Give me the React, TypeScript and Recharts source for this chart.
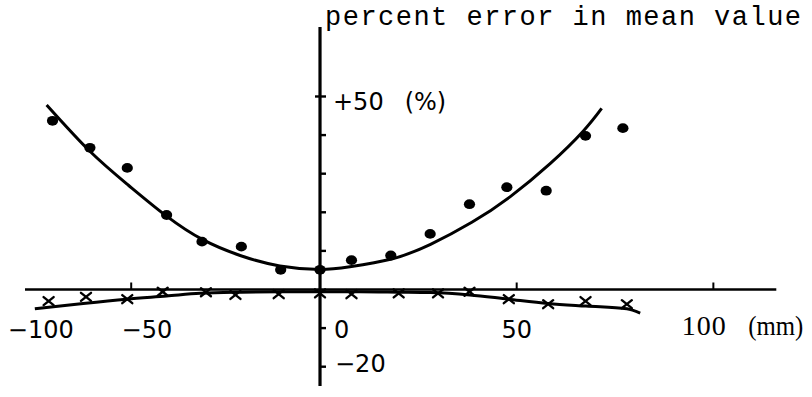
import React from 'react';
import { ComposedChart, XAxis, YAxis, Line, Scatter, ReferenceLine } from 'recharts';

// Measured points: mean-value error (dots) and the second series (crosses), x in mm, y in %
const dotX = [-68, -58.5, -49, -39, -30, -20, -10, 0, 8, 18, 28, 38, 47.5, 57.5, 67.5, 77];
const dotY = [43.7, 36.7, 31.5, 19.3, 12.4, 11.1, 5.1, 5.1, 7.6, 8.8, 14.4, 22.1, 26.5, 25.6, 39.8, 41.8];

const crossX = [-69, -59.5, -49, -40, -29, -21.5, -10.5, 0, 8, 20, 30, 38, 48, 58, 67.5, 78];
const crossY = [-3.0, -1.9, -2.5, -0.6, -0.7, -1.4, -1.2, -1.0, -1.2, -1.0, -1.0, -0.6, -2.5, -3.8, -3.0, -3.8];

// Hand-fitted trend curves
const upperFitX = [-69.5, -58.5, -48.7, -39, -29.8, -20.3, -10.2, 0, 7.6, 18.2, 28.1, 38.6, 48.3, 58.5, 66.9, 71.6];
const upperFitY = [47.8, 35.8, 27.0, 19.0, 12.9, 8.8, 6.1, 5.2, 5.9, 7.9, 11.7, 17.4, 24.0, 32.6, 41.0, 46.9];

const lowerFitX = [-72.5, -60.2, -49.2, -39, -30.5, -20, -10, 0, 10, 20, 28, 38.1, 47.9, 58, 67.6, 78, 81.4];
const lowerFitY = [-5.0, -3.6, -2.5, -1.7, -1.0, -0.7, -0.6, -0.6, -0.6, -0.7, -0.8, -1.4, -2.5, -3.6, -4.3, -5.0, -6.1];

// Axis furniture
const xTickAt = [-48, 50, 100];
const yTickAt = [-20, -10, 10, 20, 30, 40, 50];
const xLabelAt = [-71, -44, 5.5, 50];
const xLabelText = ['\u2212100', '\u221250', '0', '50'];
const xUnitAt = 97.7;
const xUnitValue = '100';
const xUnitText = '(mm)';
const yLabelTop = { value: 50, text: '+50', unit: '(%)' };
const yLabelBottom = { value: -20, text: '\u221220' };
const titleText = 'percent error in mean value';

const zip = (xs: number[], ys: number[]) => xs.map((x, i) => ({ x, y: ys[i] }));

const dots = zip(dotX, dotY);
const crosses = zip(crossX, crossY);
const upperFit = zip(upperFitX, upperFitY);
const lowerFit = zip(lowerFitX, lowerFitY);
const xTicks = xTickAt.map((x) => ({ x, y: 0 }));
const yTicks = yTickAt.map((y) => ({ x: 0, y }));
const xLabels = xLabelAt.map((x, i) => ({ x, y: 0, text: xLabelText[i] }));

const SANS = 'DejaVu Sans, sans-serif';
const SERIF = 'Liberation Serif, serif';
const MONO = 'Liberation Mono, monospace';

const DotMark = (p: any) =>
  p.cx == null ? null : <ellipse cx={p.cx} cy={p.cy} rx={5.6} ry={4.9} fill="#000" />;

const CrossMark = (p: any) =>
  p.cx == null ? null : (
    <g stroke="#000" strokeWidth={2.4} strokeLinecap="round">
      <line x1={p.cx - 5} y1={p.cy - 4} x2={p.cx + 5} y2={p.cy + 4} />
      <line x1={p.cx - 5} y1={p.cy + 4} x2={p.cx + 5} y2={p.cy - 4} />
    </g>
  );

const XTickMark = (p: any) => (
  <line x1={p.cx} y1={p.cy} x2={p.cx} y2={p.cy - 7} stroke="#000" strokeWidth={2} />
);

const YTickMark = (p: any) => (
  <line
    x1={p.payload.y === 50 ? p.cx - 5 : p.cx}
    y1={p.cy}
    x2={p.cx + 6}
    y2={p.cy}
    stroke="#000"
    strokeWidth={2.4}
  />
);

const XLabelMark = (p: any) => (
  <text x={p.cx} y={p.cy + 48.5} textAnchor="middle" fontFamily={SANS} fontSize={24} fill="#000">
    {p.payload.text}
  </text>
);

const UnitMark = (p: any) => (
  <g fontFamily={SERIF} fill="#000">
    <text x={p.cx} y={p.cy + 45.5} textAnchor="middle" fontSize={28} letterSpacing={1}>
      {xUnitValue}
    </text>
    <text x={p.cx + 44} y={p.cy + 45.5} fontSize={27} textLength={55} lengthAdjust="spacingAndGlyphs">
      {xUnitText}
    </text>
  </g>
);

const YTopLabel = (p: any) => (
  <text x={p.cx + 13} y={p.cy + 13.5} fontFamily={SANS} fontSize={24} fill="#000">
    {yLabelTop.text}
    <tspan dx={21}>{yLabelTop.unit}</tspan>
  </text>
);

const YBottomLabel = (p: any) => (
  <text x={p.cx + 15} y={p.cy + 5.3} fontFamily={SANS} fontSize={24} fill="#000">
    {yLabelBottom.text}
  </text>
);

const TitleMark = (p: any) => (
  <text
    x={p.cx + 5}
    y={p.cy - 2}
    fontFamily={MONO}
    fontSize={27}
    fill="#000"
    textLength={476}
    lengthAdjust="spacing"
  >
    {titleText}
  </text>
);

export default function App() {
  return (
    <div style={{ position: 'absolute', left: 0, top: 0, width: 812, height: 397, background: '#fff' }}>
      <ComposedChart width={812} height={397} margin={{ top: 27, right: 35.7, bottom: 11, left: 25 }}>
        <XAxis type="number" dataKey="x" domain={[-75, 116]} hide />
        <YAxis type="number" dataKey="y" domain={[-25, 68]} hide />

        <ReferenceLine y={0} stroke="#000" strokeWidth={2.6} />
        <ReferenceLine x={0} stroke="#000" strokeWidth={3.2} />

        <Scatter data={xTicks} dataKey="y" shape={XTickMark} isAnimationActive={false} />
        <Scatter data={yTicks} dataKey="y" shape={YTickMark} isAnimationActive={false} />

        <Line
          data={upperFit}
          dataKey="y"
          type="natural"
          stroke="#000"
          strokeWidth={3}
          dot={false}
          activeDot={false}
          isAnimationActive={false}
        />
        <Line
          data={lowerFit}
          dataKey="y"
          type="monotone"
          stroke="#000"
          strokeWidth={3}
          dot={false}
          activeDot={false}
          isAnimationActive={false}
        />

        <Scatter data={dots} dataKey="y" shape={DotMark} isAnimationActive={false} />
        <Scatter data={crosses} dataKey="y" shape={CrossMark} isAnimationActive={false} />

        <Scatter data={xLabels} dataKey="y" shape={XLabelMark} isAnimationActive={false} />
        <Scatter data={[{ x: xUnitAt, y: 0 }]} dataKey="y" shape={UnitMark} isAnimationActive={false} />
        <Scatter data={[{ x: 0, y: yLabelTop.value }]} dataKey="y" shape={YTopLabel} isAnimationActive={false} />
        <Scatter data={[{ x: 0, y: yLabelBottom.value }]} dataKey="y" shape={YBottomLabel} isAnimationActive={false} />
        <Scatter data={[{ x: 0, y: 68 }]} dataKey="y" shape={TitleMark} isAnimationActive={false} />
      </ComposedChart>
    </div>
  );
}
